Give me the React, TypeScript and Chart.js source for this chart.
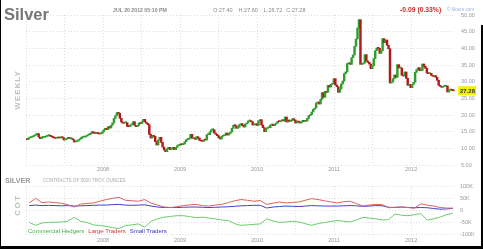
import React, { useEffect, useRef } from 'react';
import { Chart, registerables } from 'chart.js';

Chart.register(...registerables);

const FONT = '"Liberation Sans", Arial, sans-serif';

// ---------- DATA ----------
const firstWeek = '2007-01-05';
const firstOpen = 12.9;
const closes2007 = [12.6, 13.1, 13.2, 13.4, 13.6, 13.9, 14.2, 14.4, 13.4, 12.9, 13.3, 13.3, 13.4, 13.6, 13.8, 13.9, 13.6, 13.4, 13.2, 13.0, 13.1, 13.4, 13.1, 13.3, 13.2, 12.5, 12.7, 13.0, 13.1, 12.9, 12.9, 12.6, 11.9, 12.0, 12.2, 12.6, 12.9, 13.3, 13.4, 13.4, 13.7, 14.0, 14.1, 14.5, 15.0, 14.6, 14.5, 14.6, 14.4, 14.3, 14.4, 14.9];
const closes2008 = [15.5, 16.0, 15.6, 16.5, 16.1, 16.9, 17.6, 19.0, 19.8, 20.7, 20.5, 19.0, 17.9, 17.5, 17.7, 17.7, 16.6, 16.5, 17.0, 17.2, 18.0, 16.9, 16.5, 16.9, 17.6, 17.4, 18.0, 18.7, 17.9, 17.5, 17.1, 14.2, 13.1, 13.8, 13.6, 12.0, 11.0, 12.5, 13.3, 11.8, 10.4, 9.5, 9.0, 9.9, 10.3, 9.6, 9.9, 10.3, 9.6, 10.3, 10.8, 10.9];
const closes2009 = [11.3, 11.1, 11.3, 12.0, 12.6, 12.7, 13.1, 14.2, 13.0, 13.0, 12.7, 13.5, 13.1, 12.4, 12.2, 12.1, 12.6, 12.5, 14.1, 14.1, 14.9, 15.6, 15.6, 14.6, 14.2, 13.8, 13.2, 12.8, 13.6, 13.8, 14.0, 14.6, 14.0, 14.5, 14.9, 16.0, 16.9, 16.8, 16.0, 16.3, 17.1, 17.4, 16.8, 16.4, 17.3, 17.6, 18.2, 18.2, 18.0, 17.0, 17.0, 17.4];
const closes2010 = [16.9, 18.3, 18.6, 17.0, 16.2, 15.0, 15.9, 16.2, 16.2, 17.0, 17.2, 16.8, 17.3, 17.6, 18.1, 18.0, 18.3, 18.6, 18.2, 19.4, 17.9, 18.5, 18.1, 18.3, 18.9, 18.5, 17.6, 18.1, 17.9, 17.6, 18.0, 18.4, 18.1, 18.2, 19.0, 19.8, 20.1, 20.9, 21.7, 22.1, 23.6, 23.9, 23.3, 24.7, 26.7, 25.3, 27.1, 26.8, 28.9, 28.4, 29.2, 29.4, 30.9];
const closes2011 = [29.0, 28.5, 26.8, 27.8, 29.3, 30.2, 32.4, 32.9, 35.4, 35.6, 35.2, 37.2, 38.0, 40.6, 42.8, 46.1, 48.6, 35.2, 35.3, 35.6, 38.1, 36.2, 35.8, 35.3, 33.9, 34.8, 36.9, 39.3, 40.1, 40.0, 38.5, 39.3, 42.9, 41.7, 42.5, 40.9, 39.9, 29.6, 29.9, 30.9, 32.0, 31.3, 35.1, 34.1, 34.1, 31.9, 31.7, 32.9, 31.0, 28.9, 29.2, 28.2];
const closes2012 = [29.2, 29.8, 32.8, 33.6, 34.2, 33.3, 33.4, 35.3, 34.6, 34.0, 32.6, 32.4, 32.5, 31.9, 31.6, 31.8, 31.3, 30.4, 28.9, 28.6, 28.3, 28.6, 28.6, 28.7, 26.9, 27.5, 27.6, 27.4, 27.28];

const priceMin = 5;
const priceMax = 50;
const priceStep = 5;

const cotFirstMonth = '2007-01';
const commercialHedgers = [
  -50, -62, -52, -50, -49, -48, -45, -29, -45, -50, -60, -63,
  -66, -72, -75, -63, -60, -56, -70, -45, -35, -28, -25, -22,
  -22, -26, -30, -28, -32, -35, -40, -42, -55, -62, -60, -58,
  -56, -35, -44, -50, -48, -45, -48, -55, -62, -55, -50, -46,
  -42, -45, -48, -40, -29, -32, -35, -40, -38, -15, -20, -22,
  -18, -13, -40, -35, -28, -18, -12,
];
const largeTraders = [
  31, 50, 32, 35, 32, 30, 24, 14, 26, 29, 31, 38,
  45, 50, 54, 42, 40, 38, 45, 30, 22, 14, 12, 15,
  20, 23, 25, 20, 18, 22, 25, 32, 40, 45, 42, 38,
  41, 25, 30, 35, 31, 33, 35, 42, 49, 45, 40, 35,
  31, 36, 38, 28, 18, 22, 25, 24, 11, 13, 14, 12,
  9, 27, 22, 18, 12, 10, 9,
];
const smallTraders = [
  20, 22, 20, 21, 20, 19, 20, 18, 19, 20, 21, 22,
  22, 24, 25, 22, 21, 22, 23, 18, 14, 12, 12, 12,
  13, 14, 14, 13, 12, 13, 14, 15, 17, 19, 20, 21,
  21, 10, 14, 16, 18, 17, 16, 18, 20, 19, 18, 18,
  18, 19, 20, 19, 17, 18, 20, 19, 13, 12, 14, 12,
  11, 12, 11, 8, 5, 6, 9,
];
const cotMin = -100;
const cotMax = 100;
const cotStep = 50;

const xMin = 2007;
const xMax = 2012.57;

const GREEN = '#2f9e2f';
const RED = '#b01a1a';

// ---------- helpers ----------
function fracYear(t: number) {
  const d = new Date(t);
  const y = d.getUTCFullYear();
  const s = Date.UTC(y, 0, 1);
  const e = Date.UTC(y + 1, 0, 1);
  return y + (t - s) / (e - s);
}

const allCloses = [...closes2007, ...closes2008, ...closes2009, ...closes2010, ...closes2011, ...closes2012];
const lastClose = allCloses[allCloses.length - 1];

export default function App() {
  const mainRef = useRef<HTMLCanvasElement>(null);
  const cotRef = useRef<HTMLCanvasElement>(null);

  useEffect(() => {
    document.body.style.margin = '0';
    Chart.defaults.font.family = FONT;

    const t0 = Date.parse(firstWeek + 'T00:00:00Z');
    const candles = allCloses.map((c, i) => {
      const o = i === 0 ? firstOpen : allCloses[i - 1];
      return { x: fracYear(t0 + i * 7 * 86400000), y: [o, c] };
    });
    const colors = candles.map((d) => (d.y[1] >= d.y[0] ? GREEN : RED));

    const halfYearOnly = (s: any) => {
      s.ticks = s.ticks.filter((t: any) => Math.abs(t.value * 2 - Math.round(t.value * 2)) < 1e-6);
    };
    const xTickCb = (v: any) =>
      Math.abs(v - Math.round(v)) < 1e-6 && v > xMin + 0.1 ? String(Math.round(v)) : '';

    const lastLabel = {
      id: 'lastLabel',
      afterDraw(chart: any) {
        const { ctx, chartArea, scales } = chart;
        const y = scales.y.getPixelForValue(lastClose);
        ctx.save();
        ctx.fillStyle = '#f2f200';
        ctx.fillRect(chartArea.right + 3, y - 4.5, 18, 9);
        ctx.fillStyle = '#333';
        ctx.font = 'bold 6px ' + FONT;
        ctx.textBaseline = 'middle';
        ctx.fillText(lastClose.toFixed(2), chartArea.right + 5, y + 0.5);
        ctx.restore();
      },
    };

    const gridCommon = { color: '#dcdcdc', drawTicks: false, offset: false, lineWidth: 1 };
    const borderCommon = { display: false, dash: [1, 2] };

    const main = new Chart(mainRef.current!, {
      type: 'bar',
      data: {
        datasets: [
          {
            data: candles as any,
            backgroundColor: colors,
            borderWidth: 0,
            barThickness: 1.8,
            minBarLength: 1,
          },
        ],
      },
      options: {
        animation: false,
        responsive: false,
        maintainAspectRatio: false,
        layout: { padding: { left: 26, top: 15, right: 0, bottom: 0 } },
        plugins: { legend: { display: false }, tooltip: { enabled: false } },
        scales: {
          x: {
            type: 'linear',
            min: xMin,
            max: xMax,
            offset: false,
            grid: gridCommon,
            border: borderCommon,
            afterBuildTicks: halfYearOnly,
            afterFit: (s: any) => { s.height = 15; },
            ticks: { stepSize: 0.5, callback: xTickCb, font: { size: 5.5 }, color: '#999', padding: 1, maxRotation: 0, autoSkip: false },
          },
          y: {
            position: 'right',
            min: priceMin,
            max: priceMax,
            grid: gridCommon,
            border: borderCommon,
            afterFit: (s: any) => { s.width = 28; },
            ticks: { stepSize: priceStep, callback: (v: any) => Number(v).toFixed(2), font: { size: 5.5 }, color: '#999', padding: 6 },
          },
        },
      },
      plugins: [lastLabel],
    });

    const [cy, cm] = cotFirstMonth.split('-').map(Number);
    const cotX = commercialHedgers.map((_, i) => cy + (cm - 1 + i + 0.5) / 12);
    const mk = (arr: number[]) => arr.map((v, i) => ({ x: cotX[i], y: v }));

    const cot = new Chart(cotRef.current!, {
      type: 'line',
      data: {
        datasets: [
          { label: 'Commercial Hedgers', data: mk(commercialHedgers) as any, borderColor: '#6ccc6c', borderWidth: 1, pointRadius: 0, tension: 0 },
          { label: 'Large Traders', data: mk(largeTraders) as any, borderColor: '#dd6060', borderWidth: 1, pointRadius: 0, tension: 0 },
          { label: 'Small Traders', data: mk(smallTraders) as any, borderColor: '#4040c8', borderWidth: 1, pointRadius: 0, tension: 0 },
        ],
      },
      options: {
        animation: false,
        responsive: false,
        maintainAspectRatio: false,
        layout: { padding: { left: 26, top: 6.5, right: 0, bottom: 0 } },
        plugins: { legend: { display: false }, tooltip: { enabled: false } },
        scales: {
          x: {
            type: 'linear',
            min: xMin,
            max: xMax,
            offset: false,
            grid: gridCommon,
            border: borderCommon,
            afterBuildTicks: halfYearOnly,
            afterFit: (s: any) => { s.height = 11.5; },
            ticks: { stepSize: 0.5, callback: xTickCb, font: { size: 5.5 }, color: '#999', padding: 3, maxRotation: 0, autoSkip: false },
          },
          y: {
            position: 'right',
            min: cotMin,
            max: cotMax,
            grid: gridCommon,
            border: borderCommon,
            afterFit: (s: any) => { s.width = 28; },
            ticks: { stepSize: cotStep, callback: (v: any) => (Number(v) === 0 ? '0' : Number(v) + 'K'), font: { size: 5.5 }, color: '#999', padding: 5 },
          },
        },
      },
    });

    return () => {
      main.destroy();
      cot.destroy();
    };
  }, []);

  const abs = (o: React.CSSProperties): React.CSSProperties => ({ position: 'absolute', whiteSpace: 'nowrap', lineHeight: 1, ...o });

  return (
    <div style={{ position: 'fixed', left: 0, top: 0, width: 483, height: 249, overflow: 'hidden', background: '#fff', fontFamily: FONT }}>
      <canvas ref={mainRef} width={483} height={180} style={{ position: 'absolute', left: 0, top: 0, width: 483, height: 180 }} />
      <canvas ref={cotRef} width={483} height={68} style={{ position: 'absolute', left: 0, top: 178, width: 483, height: 68 }} />

      <div style={abs({ left: 4, top: 6, fontSize: 16.5, fontWeight: 'bold', color: '#777' })}>Silver</div>
      <div style={abs({ left: 113, top: 7.5, fontSize: 5.2, fontWeight: 'bold', color: '#888' })}>JUL 20 2012 05:10 PM</div>
      <div style={abs({ left: 213, top: 7.5, fontSize: 5.5, color: '#888' })}>
        <span>O:27.40</span>
        <span style={{ marginLeft: 6 }}>H:27.60</span>
        <span style={{ marginLeft: 6 }}>L:26.72</span>
        <span style={{ marginLeft: 4 }}>C:27.28</span>
      </div>
      <div style={abs({ left: 400, top: 7, fontSize: 6.8, fontWeight: 'bold', color: '#cc2a2a' })}>-0.09 (0.33%)</div>
      <div style={abs({ left: 447, top: 8, fontSize: 4.5, color: '#9ab4d8' })}>© Moore.com</div>

      <div style={abs({ left: 18, top: 90, fontSize: 8, fontWeight: 'bold', color: '#c0c0c0', letterSpacing: 1, transform: 'translate(-50%, -50%) rotate(-90deg)' })}>WEEKLY</div>
      <div style={abs({ left: 18, top: 205, fontSize: 8, fontWeight: 'bold', color: '#c0c0c0', letterSpacing: 1.5, transform: 'translate(-50%, -50%) rotate(-90deg)' })}>COT</div>

      <div style={abs({ left: 5, top: 177, fontSize: 7.2, fontWeight: 'bold', color: '#999' })}>SILVER</div>
      <div style={abs({ left: 43, top: 179, fontSize: 4.6, color: '#aaa' })}>CONTRACTS OF 5000 TROY OUNCES</div>

      <div style={abs({ left: 28, top: 228, fontSize: 6, color: '#3cb83c' })}>
        <span>Commercial Hedgers</span>
        <span style={{ marginLeft: 4, color: '#dd3535' }}>Large Traders</span>
        <span style={{ marginLeft: 4, color: '#3535cc' }}>Small Traders</span>
      </div>

      <div style={{ position: 'absolute', left: 0, top: 0, width: 1, height: 249, background: '#000' }} />
      <div style={{ position: 'absolute', left: 481, top: 25, width: 2, height: 224, background: '#000' }} />
      <div style={{ position: 'absolute', left: 0, top: 246, width: 483, height: 3, background: '#000' }} />
    </div>
  );
}
